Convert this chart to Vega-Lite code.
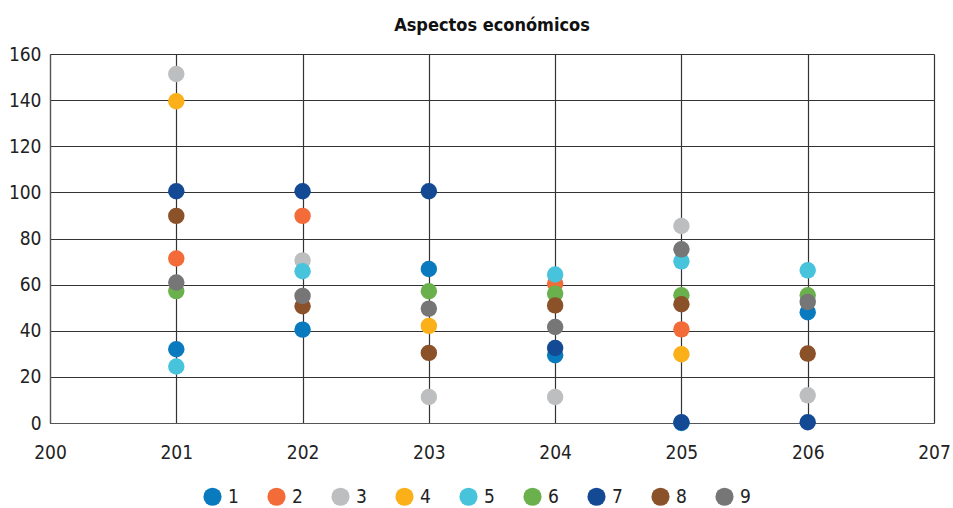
{
  "$schema": "https://vega.github.io/schema/vega-lite/v6.json",
  "width": 884,
  "height": 369,
  "autosize": {"type": "none"},
  "padding": {"left": 50, "top": 54, "right": 19, "bottom": 85},
  "background": "white",
  "title": {
    "text": "Aspectos económicos",
    "font": "DejaVu Sans Condensed",
    "fontSize": 18,
    "fontWeight": "bold",
    "color": "#111111",
    "offset": 10,
    "anchor": "middle"
  },
  "config": {
    "view": {"stroke": null},
    "axis": {
      "labelFont": "DejaVu Sans Condensed",
      "labelFontSize": 19,
      "labelColor": "#222222",
      "gridColor": "#333333",
      "gridWidth": 1.2,
      "gridOpacity": 1,
      "ticks": false,
      "title": null
    }
  },
  "data": {
    "values": [
      {"x": 201, "v": 32, "s": "1"},
      {"x": 202, "v": 40.5, "s": "1"},
      {"x": 203, "v": 66.8, "s": "1"},
      {"x": 204, "v": 29.4, "s": "1"},
      {"x": 205, "v": 0, "s": "1"},
      {"x": 206, "v": 48, "s": "1"},
      {"x": 201, "v": 71.3, "s": "2"},
      {"x": 202, "v": 89.8, "s": "2"},
      {"x": 204, "v": 60.5, "s": "2"},
      {"x": 205, "v": 40.6, "s": "2"},
      {"x": 201, "v": 151.3, "s": "3"},
      {"x": 202, "v": 70.5, "s": "3"},
      {"x": 203, "v": 11.3, "s": "3"},
      {"x": 204, "v": 11.3, "s": "3"},
      {"x": 205, "v": 85.4, "s": "3"},
      {"x": 206, "v": 12, "s": "3"},
      {"x": 201, "v": 139.5, "s": "4"},
      {"x": 203, "v": 42.1, "s": "4"},
      {"x": 205, "v": 29.8, "s": "4"},
      {"x": 201, "v": 24.5, "s": "5"},
      {"x": 202, "v": 65.8, "s": "5"},
      {"x": 204, "v": 64.4, "s": "5"},
      {"x": 205, "v": 70.1, "s": "5"},
      {"x": 206, "v": 66.2, "s": "5"},
      {"x": 201, "v": 57.2, "s": "6"},
      {"x": 203, "v": 57.1, "s": "6"},
      {"x": 204, "v": 56.1, "s": "6"},
      {"x": 205, "v": 55.4, "s": "6"},
      {"x": 206, "v": 55.4, "s": "6"},
      {"x": 201, "v": 100.5, "s": "7"},
      {"x": 202, "v": 100.5, "s": "7"},
      {"x": 203, "v": 100.5, "s": "7"},
      {"x": 204, "v": 32.5, "s": "7"},
      {"x": 205, "v": 0.3, "s": "7"},
      {"x": 206, "v": 0.3, "s": "7"},
      {"x": 201, "v": 89.8, "s": "8"},
      {"x": 202, "v": 50.6, "s": "8"},
      {"x": 203, "v": 30.4, "s": "8"},
      {"x": 204, "v": 51, "s": "8"},
      {"x": 205, "v": 51.5, "s": "8"},
      {"x": 206, "v": 30.1, "s": "8"},
      {"x": 201, "v": 60.9, "s": "9"},
      {"x": 202, "v": 55.1, "s": "9"},
      {"x": 203, "v": 49.6, "s": "9"},
      {"x": 204, "v": 41.6, "s": "9"},
      {"x": 205, "v": 75.3, "s": "9"},
      {"x": 206, "v": 52.5, "s": "9"}
    ]
  },
  "mark": {"type": "circle", "size": 270, "opacity": 1},
  "encoding": {
    "x": {
      "field": "x",
      "type": "quantitative",
      "scale": {"domain": [200, 207], "zero": false, "nice": false},
      "axis": {
        "values": [200, 201, 202, 203, 204, 205, 206, 207],
        "format": "d",
        "labelFlush": false,
        "labelPadding": 20,
        "domainColor": "#555555",
        "domainWidth": 1.2
      }
    },
    "y": {
      "field": "v",
      "type": "quantitative",
      "scale": {"domain": [0, 160], "nice": false},
      "axis": {
        "values": [0, 20, 40, 60, 80, 100, 120, 140, 160],
        "labelFlush": false,
        "labelPadding": 9,
        "domainColor": "#555555",
        "domainWidth": 1.2
      }
    },
    "color": {
      "field": "s",
      "type": "nominal",
      "scale": {
        "domain": ["1", "2", "3", "4", "5", "6", "7", "8", "9"],
        "range": ["#0a7abf", "#f26b38", "#bcbec0", "#fbb01a", "#47c3dc", "#6ab04c", "#144a94", "#8b5128", "#767676"]
      },
      "legend": {
        "title": null,
        "orient": "none",
        "legendX": 153,
        "legendY": 433,
        "direction": "horizontal",
        "symbolType": "circle",
        "symbolSize": 330,
        "symbolStrokeWidth": 0,
        "labelFont": "DejaVu Sans Condensed",
        "labelFontSize": 19,
        "labelColor": "#222222",
        "labelOffset": 6,
        "columnPadding": 28
      }
    },
    "order": {"field": "s", "type": "nominal"}
  }
}
